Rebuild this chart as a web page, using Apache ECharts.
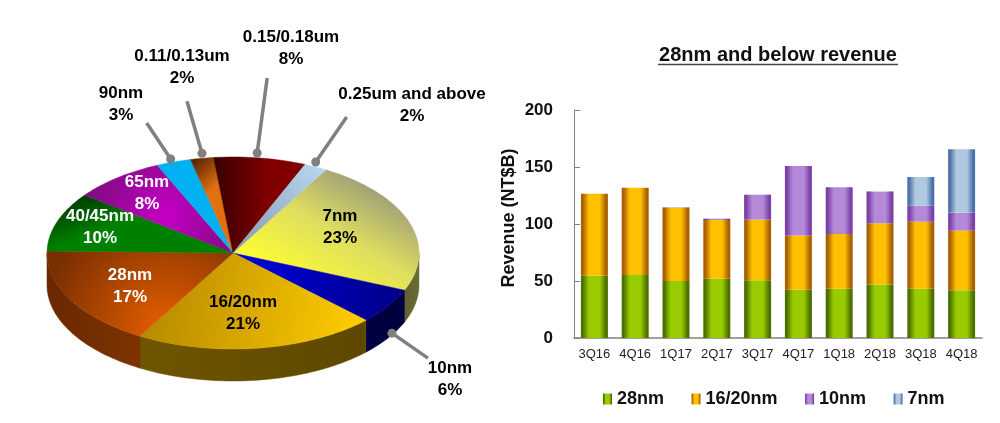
<!DOCTYPE html>
<html><head><meta charset="utf-8">
<style>html,body{margin:0;padding:0;background:#fff}#c{width:1000px;height:423px}</style>
<script src="https://cdn.jsdelivr.net/npm/echarts@6/dist/echarts.min.js"></script>
</head><body><div id="c"></div>
<script>
// ---- data ----
const nodeNames = ['7nm','10nm','16/20nm','28nm','40/45nm','65nm','90nm','0.11/0.13um','0.15/0.18um','0.25um and above'];
const nodeShares = [23,6,21,17,10,8,3,2,8,2];
const quarters = ['3Q16','4Q16','1Q17','2Q17','3Q17','4Q17','1Q18','2Q18','3Q18','4Q18'];
const rev28 = [54.7,55.3,50,52,50.6,42.4,43.3,47,43.3,41.8];
const rev1620 = [71.9,76.6,64.2,51.5,53.2,47.6,47.9,53.6,58.7,52.4];
const rev10 = [0,0,0.4,1.2,21.9,60.9,41,27.6,14,15.8];
const rev7 = [0,0,0,0,0,0,0,0.5,25.2,55.5];

// ---- pie look ----
const G = echarts.graphic;
const lin = (a,b,c,d,s)=>new G.LinearGradient(a,b,c,d,s.map((k,i)=>({offset:k[0],color:k[1]})),true);
const rad = (a,b,r,s)=>new G.RadialGradient(a,b,r,s.map(k=>({offset:k[0],color:k[1]})),true);
const CX=233, CY=253, RX=186, RY=96, DEPTH=32, START=30;
const topFill = [
  lin(240,260,305,147,[[0,'#ffff2e'],[.55,'#dede60'],[1,'#9f9f78']]),
  lin(233,253,385,300,[[0,'#0000e0'],[1,'#000090']]),
  lin(150,300,360,330,[[0,'#b88a00'],[1,'#ffcc00']]),
  rad(165,330,125,[[0,'#e85f00'],[1,'#7a2f00']]),
  lin(92,195,105,228,[[0,'#004000'],[1,'#008000']]),
  rad(165,215,72,[[0,'#c600c6'],[1,'#850a85']]),
  '#00b0f0',
  lin(195,160,228,195,[[0,'#5a2600'],[.7,'#e07010'],[1,'#e07010']]),
  lin(215,180,268,180,[[0,'#3a0000'],[1,'#800000']]),
  lin(325,165,245,245,[[0,'#b8d8f0'],[1,'#8aa0b8']])
];
const sideFill = [
  lin(370,0,419,0,[[0,'#4a4a20'],[1,'#6a6a38']]),
  '#000040',
  lin(140,0,367,0,[[0,'#6e5500'],[1,'#5e4800']]),
  lin(47,0,140,0,[[0,'#6a2800'],[1,'#7e3300']]),
  null,null,null,null,null,null
];
// label centre x, first line centre y, colour
const labelPos = [
  [340,217,'#000'],[450,369,'#000'],[243,303,'#000'],[130,276,'#fff'],[100,217,'#fff'],
  [147,183,'#fff'],[121,94,'#000'],[182,57,'#000'],[291,38,'#000'],[412,95,'#000']
];
// leader: offset of the dot from the rim point, offset of the line end from the dot
const leaders = {1:[4,27,36,25],6:[-3,-3,-24,-36],7:[0,-5,-15,-52],8:[-3,-5,10,-75],9:[0,-5,31,-45]};

const total = nodeShares.reduce((a,b)=>a+b,0);
const pt=(deg,dy)=>{const r=deg*Math.PI/180;return [CX+RX*Math.sin(r),CY-RY*Math.cos(r)+(dy||0)];};
function renderSlice(params,api){
  const i=params.dataIndex;
  let a0=START; for(let k=0;k<i;k++) a0+=nodeShares[k]/total*360;
  const a1=a0+api.value(0)/total*360;
  const kids=[];
  const sampled=(a,b)=>{const n=Math.max(2,Math.ceil((b-a)/1.5));const o=[];for(let k=0;k<=n;k++)o.push(a+(b-a)*k/n);return o;};
  const s0=Math.max(a0,90), s1=Math.min(a1,270);
  if(s1>s0 && sideFill[i]){
    const arc=sampled(s0,s1);
    const pts=arc.map(d=>pt(d,0)).concat(arc.slice().reverse().map(d=>pt(d,DEPTH)));
    kids.push({type:'polygon',shape:{points:pts},style:{fill:sideFill[i],stroke:sideFill[i],lineWidth:.5}});
  }
  const pts=[[CX,CY]].concat(sampled(a0,a1).map(d=>pt(d,0)));
  kids.push({type:'polygon',shape:{points:pts},style:{fill:topFill[i],stroke:topFill[i],lineWidth:.5}});
  const mid=(a0+a1)/2, L=leaders[i];
  if(L){
    const p=pt(mid,0), dx=p[0]+L[0], dy=p[1]+L[1];
    kids.push({type:'line',shape:{x1:dx,y1:dy,x2:dx+L[2],y2:dy+L[3]},style:{stroke:'#808080',lineWidth:3.5},z2:5});
    kids.push({type:'circle',shape:{cx:dx,cy:dy,r:4.5},style:{fill:'#808080'},z2:5});
  }
  const P=labelPos[i];
  kids.push({type:'text',z2:10,style:{x:P[0],y:P[1]-11,text:nodeNames[i]+'\n'+api.value(0)+'%',fill:P[2],
    align:'center',verticalAlign:'top',lineHeight:21.5,font:'bold 17px "Liberation Sans",Arial,sans-serif'}});
  return {type:'group',children:kids};
}

// ---- bars ----
const vbar=(edge,mid)=>({type:'linear',x:0,y:0,x2:1,y2:0,colorStops:[{offset:0,color:edge},{offset:.07,color:edge},{offset:.3,color:mid},{offset:.7,color:mid},{offset:.93,color:edge},{offset:1,color:edge}]});
const FONT='"Liberation Sans",Arial,sans-serif';
const mkBar=(name,data,edge,mid)=>({name,type:'bar',stack:'rev',data,barWidth:27,itemStyle:{color:vbar(edge,mid)}});

const chart=echarts.init(document.getElementById('c'),null,{renderer:'canvas'});
chart.setOption({
  animation:false,backgroundColor:'#fff',
  title:{text:'28nm and below revenue',left:773,top:40,textAlign:'center',
    textStyle:{fontFamily:FONT,fontWeight:'bold',fontSize:20,color:'#111'}},
  graphic:[{type:'line',shape:{x1:658,y1:64.5,x2:898,y2:64.5},style:{stroke:'#444',lineWidth:1.5}}],
  legend:{data:['28nm','16/20nm','10nm','7nm'],left:598,top:385,icon:'rect',itemWidth:9,itemHeight:11,itemGap:27.5,
    textStyle:{fontFamily:FONT,fontWeight:'bold',fontSize:18,color:'#111'},selectedMode:false},
  grid:{left:574,right:18,top:110,bottom:85},
  xAxis:{type:'category',data:quarters,
    axisLine:{lineStyle:{color:'#808080',width:1.5}},axisTick:{show:false},
    axisLabel:{fontFamily:FONT,fontSize:13,color:'#222',margin:10,interval:0}},
  yAxis:{type:'value',min:0,max:200,interval:50,
    name:'Revenue (NT$B)',nameLocation:'middle',nameGap:56,nameRotate:90,
    nameTextStyle:{fontFamily:FONT,fontWeight:'bold',fontSize:18,color:'#111',padding:[0,0,0,12]},
    axisLine:{show:true,lineStyle:{color:'#808080',width:1}},
    axisTick:{show:true,inside:true,length:6,lineStyle:{color:'#808080'}},
    splitLine:{show:false},
    axisLabel:{fontFamily:FONT,fontWeight:'bold',fontSize:17,color:'#111',margin:21}},
  series:[
    {type:'custom',coordinateSystem:'none',silent:true,clip:false,data:nodeShares.map(v=>[v]),renderItem:renderSlice},
    mkBar('28nm',rev28,'#4c7000','#99cc00'),
    mkBar('16/20nm',rev1620,'#a86000','#ffc000'),
    mkBar('10nm',rev10,'#7a40a8','#b48ad8'),
    mkBar('7nm',rev7,'#4a72a8','#b0c8e0')
  ]
});
</script></body></html>
